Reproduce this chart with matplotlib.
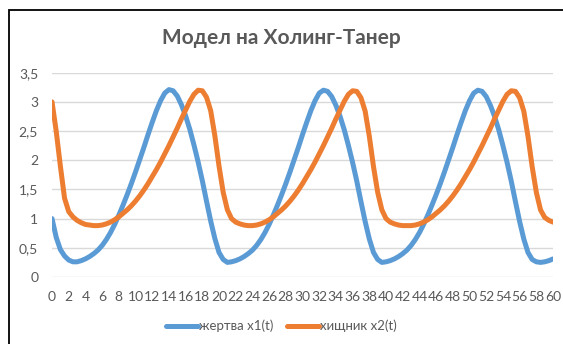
import matplotlib
matplotlib.use("Agg")
import matplotlib.pyplot as plt
from matplotlib.patches import Rectangle
from matplotlib.ticker import FuncFormatter
import numpy as np

# time grid, step 0.5
t = np.arange(0, 60.5, 0.5)

# prey x1(t)
prey = [
    1.00, 0.68, 0.47, 0.36, 0.29,
    0.26, 0.26, 0.28, 0.31, 0.35, 0.40, 0.46, 0.54, 0.64, 0.76,
    0.90, 1.06, 1.23, 1.41, 1.60, 1.80, 2.01, 2.22, 2.44, 2.65,
    2.85, 3.02, 3.15, 3.21, 3.19, 3.10, 2.95, 2.76, 2.53, 2.26,
    1.97, 1.65, 1.30, 0.96, 0.66, 0.42, 0.30,
    0.25, 0.26, 0.28, 0.31, 0.35, 0.40, 0.46, 0.54, 0.64, 0.76,
    0.90, 1.06, 1.23, 1.41, 1.60, 1.80, 2.01, 2.22, 2.44, 2.65,
    2.85, 3.02, 3.15, 3.20, 3.18, 3.09, 2.94, 2.75, 2.52, 2.25,
    1.96, 1.64, 1.29, 0.95, 0.65, 0.42, 0.30,
    0.25, 0.26, 0.28, 0.31, 0.35, 0.40, 0.46, 0.54, 0.64, 0.76,
    0.90, 1.06, 1.23, 1.41, 1.60, 1.80, 2.01, 2.22, 2.44, 2.65,
    2.85, 3.02, 3.15, 3.20, 3.18, 3.09, 2.94, 2.75, 2.52, 2.25,
    1.96, 1.64, 1.29, 0.95, 0.65, 0.42, 0.30,
    0.26, 0.25, 0.26, 0.28, 0.31,
]

# predator x2(t)
predator = [
    3.00, 2.50, 1.90, 1.35, 1.12, 1.03, 0.97, 0.93, 0.90, 0.89,
    0.88, 0.88, 0.89, 0.91, 0.94, 0.98, 1.03, 1.09, 1.15, 1.22,
    1.30, 1.39, 1.49, 1.60, 1.72, 1.84, 1.97, 2.11, 2.25, 2.40,
    2.55, 2.71, 2.86, 3.01, 3.13, 3.20, 3.19, 3.08, 2.85, 2.42,
    1.90, 1.45, 1.15, 1.00, 0.94, 0.91, 0.89,
    0.88, 0.88, 0.89, 0.91, 0.94, 0.98, 1.03, 1.09, 1.15, 1.22,
    1.30, 1.39, 1.49, 1.60, 1.72, 1.84, 1.97, 2.11, 2.25, 2.40,
    2.55, 2.71, 2.86, 3.01, 3.13, 3.19, 3.18, 3.07, 2.84, 2.41,
    1.89, 1.45, 1.15, 1.00, 0.94, 0.91, 0.89, 0.88,
    0.88, 0.88, 0.89, 0.91, 0.94, 0.98, 1.03, 1.09, 1.15, 1.22,
    1.30, 1.39, 1.49, 1.60, 1.72, 1.84, 1.97, 2.11, 2.25, 2.40,
    2.55, 2.71, 2.86, 3.01, 3.13, 3.19, 3.18, 3.07, 2.84, 2.41,
    1.89, 1.45, 1.15, 1.02, 0.97, 0.94,
]

x_ticks = list(range(0, 61, 2))
y_ticks = [0, 0.5, 1, 1.5, 2, 2.5, 3, 3.5]

plt.rcParams['font.family'] = ['Lato', 'Open Sans', 'DejaVu Sans']
text_color = '#595959'

fig = plt.figure(figsize=(5.63, 3.44), dpi=100)
ax = fig.add_axes([0.0924, 0.1948, 0.8899, 0.5939])

ax.plot(t, prey, color='#5B9BD5', lw=3.6, solid_capstyle='round',
        label='жертва x1(t)')
ax.plot(t, predator, color='#ED7D31', lw=3.6, solid_capstyle='round',
        label='хищник x2(t)')

ax.set_xlim(0, 60)
ax.set_ylim(0, 3.5)
ax.set_xticks(x_ticks)
ax.set_yticks(y_ticks)
ax.yaxis.set_major_formatter(FuncFormatter(lambda v, p: ('%g' % v).replace('.', ',')))
ax.tick_params(axis='both', length=0, labelsize=10, colors=text_color)
ax.tick_params(axis='y', pad=10)
ax.tick_params(axis='x', pad=10)

ax.grid(axis='y', color='#D9D9D9', lw=1)
ax.set_axisbelow(True)
for s in ax.spines.values():
    s.set_visible(False)

fig.text(0.5, 0.89, 'Модел на Холинг-Танер', ha='center', va='center',
         fontsize=15, fontweight='bold', color=text_color)

fig.legend(loc='center', bbox_to_anchor=(0.5, 0.052), ncol=2, frameon=False,
           fontsize=9.5, handlelength=2.4, handletextpad=0.1, columnspacing=1.0,
           labelcolor=text_color)

# chart frame
fig.add_artist(Rectangle((9 / 563, -0.5), 2.0, (344 - 10) / 344 + 0.5,
                         transform=fig.transFigure, fill=False,
                         edgecolor='black', lw=1.3, clip_on=False))

fig.savefig('out.png', dpi=100)
